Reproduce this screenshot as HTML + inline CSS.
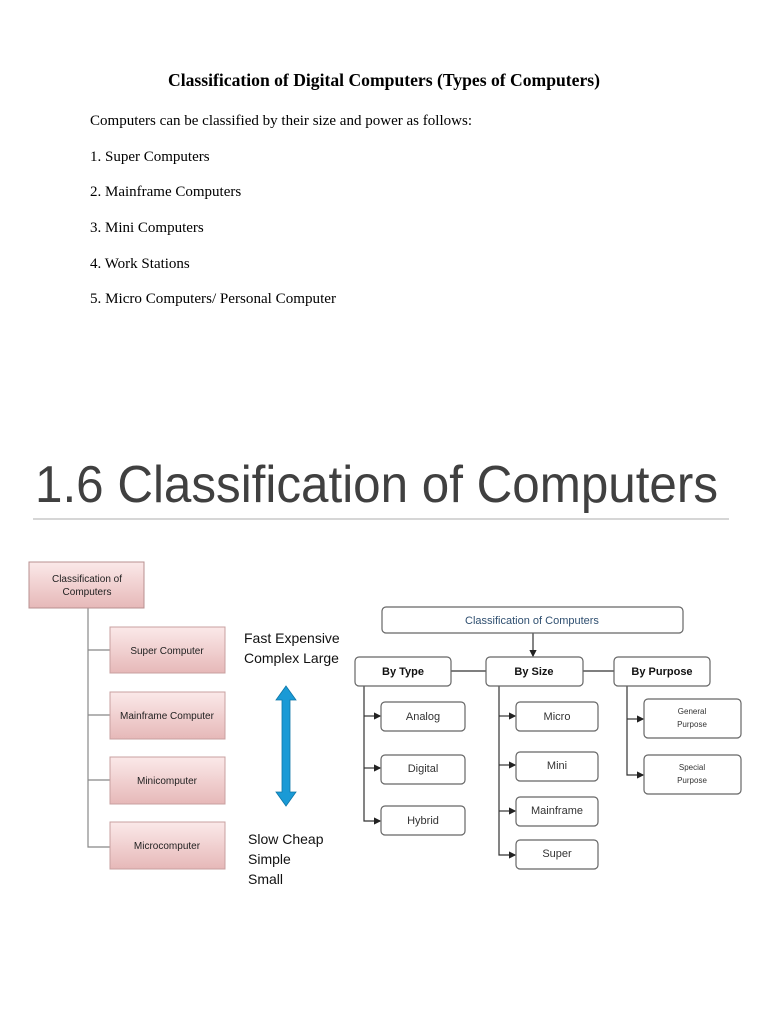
<!DOCTYPE html>
<html><head><meta charset="utf-8"><style>
html,body{margin:0;padding:0;background:#fff;width:768px;height:1024px;overflow:hidden}
svg{display:block}
</style></head><body>
<svg width="768" height="1024" viewBox="0 0 768 1024" xmlns="http://www.w3.org/2000/svg">
<defs>
<linearGradient id="pk" x1="0" y1="0" x2="0" y2="1"><stop offset="0" stop-color="#fbe9e9"/><stop offset="1" stop-color="#e6b8b8"/></linearGradient>
<marker id="ah" markerWidth="6" markerHeight="6" refX="5" refY="3" orient="auto"><path d="M0,0 L6,3 L0,6 Z" fill="#222"/></marker>
</defs>
<g font-family="Liberation Serif, serif" fill="#000">
<text x="168" y="86" font-size="17.5" font-weight="bold" textLength="432" lengthAdjust="spacingAndGlyphs">Classification of Digital Computers (Types of Computers)</text>
<text x="90" y="125" font-size="15" textLength="382" lengthAdjust="spacingAndGlyphs">Computers can be classified by their size and power as follows:</text>
<text x="90" y="161" font-size="15">1. Super Computers</text>
<text x="90" y="196" font-size="15">2. Mainframe Computers</text>
<text x="90" y="232" font-size="15">3. Mini Computers</text>
<text x="90" y="268" font-size="15">4. Work Stations</text>
<text x="90" y="303" font-size="15" textLength="246" lengthAdjust="spacingAndGlyphs">5. Micro Computers/ Personal Computer</text>
</g>
<text x="35" y="502" font-family="Liberation Sans, sans-serif" font-size="52" fill="#404040" textLength="683" lengthAdjust="spacingAndGlyphs">1.6 Classification of Computers</text>
<line x1="33" y1="519" x2="729" y2="519" stroke="#c8c8c8" stroke-width="1.5"/>

<g font-family="Liberation Sans, sans-serif" font-size="10" fill="#222" text-anchor="middle">
<polyline points="88,608 88,847 110,847" fill="none" stroke="#888" stroke-width="1.2"/>
<line x1="88" y1="650" x2="110" y2="650" stroke="#888" stroke-width="1.2"/>
<line x1="88" y1="715" x2="110" y2="715" stroke="#888" stroke-width="1.2"/>
<line x1="88" y1="780" x2="110" y2="780" stroke="#888" stroke-width="1.2"/>
<rect x="29" y="562" width="115" height="46" fill="url(#pk)" stroke="#b89090"/>
<text x="87" y="582">Classification of</text><text x="87" y="595">Computers</text>
<rect x="110" y="627" width="115" height="46" fill="url(#pk)" stroke="#c8a0a0"/><text x="167" y="654">Super Computer</text>
<rect x="110" y="692" width="115" height="47" fill="url(#pk)" stroke="#c8a0a0"/><text x="167" y="719">Mainframe Computer</text>
<rect x="110" y="757" width="115" height="47" fill="url(#pk)" stroke="#c8a0a0"/><text x="167" y="784">Minicomputer</text>
<rect x="110" y="822" width="115" height="47" fill="url(#pk)" stroke="#c8a0a0"/><text x="167" y="849">Microcomputer</text>
</g>
<g font-family="Liberation Sans, sans-serif" font-size="14" fill="#111">
<text x="244" y="643">Fast Expensive</text><text x="244" y="663">Complex Large</text>
<text x="248" y="844">Slow Cheap</text><text x="248" y="864">Simple</text><text x="248" y="884">Small</text>
</g>
<path d="M286,686 L296,700 L290,700 L290,792 L296,792 L286,806 L276,792 L282,792 L282,700 L276,700 Z" fill="#1a9ad6" stroke="#0e77a8" stroke-width="0.8"/>

<g fill="none" stroke="#333" stroke-width="1.2">
<line x1="533" y1="633" x2="533" y2="656" marker-end="url(#ah)"/>
<line x1="451" y1="671" x2="486" y2="671"/><line x1="583" y1="671" x2="614" y2="671"/>
<polyline points="364,686 364,821 380,821" marker-end="url(#ah)"/>
<line x1="364" y1="716" x2="380" y2="716" marker-end="url(#ah)"/>
<line x1="364" y1="768" x2="380" y2="768" marker-end="url(#ah)"/>
<polyline points="499,686 499,855 515,855" marker-end="url(#ah)"/>
<line x1="499" y1="716" x2="515" y2="716" marker-end="url(#ah)"/>
<line x1="499" y1="765" x2="515" y2="765" marker-end="url(#ah)"/>
<line x1="499" y1="811" x2="515" y2="811" marker-end="url(#ah)"/>
<polyline points="627,686 627,775 643,775" marker-end="url(#ah)"/>
<line x1="627" y1="719" x2="643" y2="719" marker-end="url(#ah)"/>
</g>
<g fill="#fff" stroke="#666" stroke-width="1.2">
<rect x="382" y="607" width="301" height="26" rx="4"/>
<rect x="355" y="657" width="96" height="29" rx="4"/>
<rect x="486" y="657" width="97" height="29" rx="4"/>
<rect x="614" y="657" width="96" height="29" rx="4"/>
<rect x="381" y="702" width="84" height="29" rx="4"/>
<rect x="381" y="755" width="84" height="29" rx="4"/>
<rect x="381" y="806" width="84" height="29" rx="4"/>
<rect x="516" y="702" width="82" height="29" rx="4"/>
<rect x="516" y="752" width="82" height="29" rx="4"/>
<rect x="516" y="797" width="82" height="29" rx="4"/>
<rect x="516" y="840" width="82" height="29" rx="4"/>
<rect x="644" y="699" width="97" height="39" rx="4"/>
<rect x="644" y="755" width="97" height="39" rx="4"/>
</g>
<g font-family="Liberation Sans, sans-serif" text-anchor="middle" fill="#333">
<text x="532" y="624" font-size="11" fill="#2f4f70">Classification of Computers</text>
<text x="403" y="675" font-size="11" font-weight="bold" fill="#111">By Type</text>
<text x="534" y="675" font-size="11" font-weight="bold" fill="#111">By Size</text>
<text x="662" y="675" font-size="11" font-weight="bold" fill="#111">By Purpose</text>
<text x="423" y="720" font-size="11">Analog</text>
<text x="423" y="772" font-size="11">Digital</text>
<text x="423" y="824" font-size="11">Hybrid</text>
<text x="557" y="720" font-size="11">Micro</text>
<text x="557" y="769" font-size="11">Mini</text>
<text x="557" y="814" font-size="11">Mainframe</text>
<text x="557" y="857" font-size="11">Super</text>
<text x="692" y="714" font-size="8">General</text><text x="692" y="727" font-size="8">Purpose</text>
<text x="692" y="770" font-size="8">Special</text><text x="692" y="783" font-size="8">Purpose</text>
</g>
</svg>
</body></html>
